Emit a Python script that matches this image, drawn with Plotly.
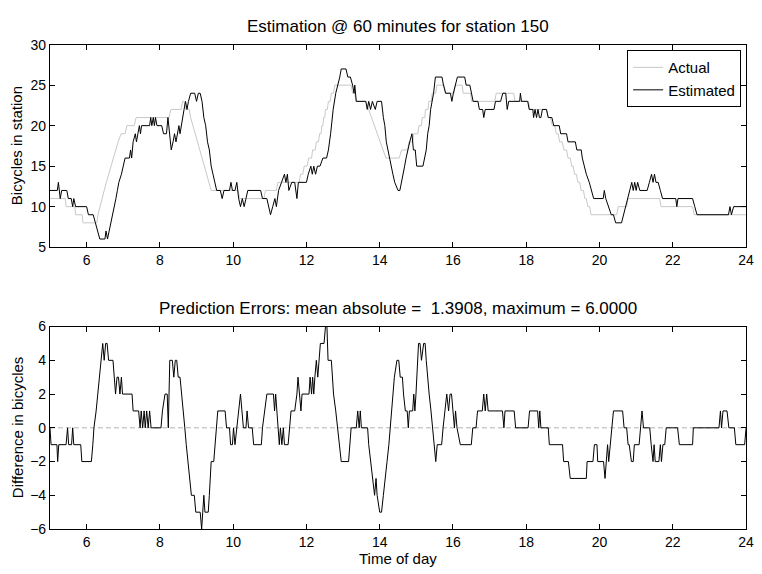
import plotly.graph_objects as go

# ---------------- data ----------------
actual_t = [5.0, 5.42, 5.44, 5.68, 5.7, 5.88, 5.9, 6.28, 6.31, 6.36, 6.42, 6.48, 6.54, 6.6, 6.66,
            6.72, 6.78, 6.86, 6.94, 7.05, 7.1, 7.3, 7.35, 8.25, 8.3, 8.58, 8.62, 8.66, 8.7, 8.8,
            8.84, 8.9, 8.96, 9.02, 9.08, 9.14, 9.2, 9.26, 9.32, 9.4, 10.14, 10.17, 10.84, 10.88,
            11.18, 11.22, 11.8, 11.84, 11.9, 11.94, 12.02, 12.06, 12.14, 12.17, 12.24, 12.27,
            12.33, 12.36, 12.4, 12.42, 12.45, 12.47, 12.5, 12.52, 12.57, 12.6, 12.65, 12.68,
            12.74, 12.77, 13.22, 13.26, 13.32, 13.36, 13.62, 13.7, 13.78, 13.86, 13.94, 14.0,
            14.08, 14.17, 14.53, 14.6, 14.76, 14.8, 14.9, 14.93, 15.04, 15.07, 15.14, 15.16,
            15.23, 15.25, 15.32, 15.34, 15.41, 15.43, 15.53, 15.56, 15.76, 15.79, 16.03, 16.06,
            16.25, 16.28, 16.48, 16.51, 17.14, 17.18, 17.66, 17.69, 18.06, 18.1, 18.56, 18.6,
            18.66, 18.71, 18.78, 18.82, 18.87, 18.91, 18.98, 19.03, 19.1, 19.14, 19.2, 19.24,
            19.28, 19.32, 19.37, 19.41, 19.46, 19.5, 19.56, 19.6, 19.64, 19.68, 19.73, 19.77,
            20.47, 20.51, 20.74, 20.78, 21.64, 21.68, 22.54, 22.58, 24.0]
actual_v = [11, 11, 10, 10, 9, 9, 8, 8, 9, 10, 11, 12, 13, 14, 15,
            16, 17, 18, 19, 19, 20, 20, 21, 21, 22, 22, 23, 23, 22, 22,
            21, 20, 19, 18, 17, 16, 15, 14, 13, 12, 12, 11, 11, 12,
            12, 13, 13, 14, 14, 15, 15, 16, 16, 17, 17, 18,
            18, 19, 19, 20, 20, 21, 21, 22, 22, 23, 23, 24,
            24, 25, 25, 24, 24, 23, 23, 22, 21, 20, 19, 18,
            17, 16, 16, 17, 17, 18, 18, 19, 19, 20, 20, 21,
            21, 22, 22, 23, 23, 24, 24, 25, 25, 24, 24, 25,
            25, 24, 24, 23, 23, 24, 24, 23, 23, 22, 22, 21,
            21, 20, 20, 19, 19, 18, 18, 17, 17, 16, 16, 15,
            15, 14, 14, 13, 13, 12, 12, 11, 11, 10, 10, 9,
            9, 10, 10, 11, 11, 10, 10, 9, 9]

est_t = [5.0, 5.2, 5.23, 5.28, 5.32, 5.46, 5.5, 5.58, 5.62, 5.65, 5.7, 6.0, 6.05, 6.18, 6.24,
         6.3, 6.36, 6.5, 6.53, 6.57, 6.62, 6.66, 6.7, 6.75, 6.8, 6.84, 6.88, 6.95, 7.0, 7.05,
         7.17, 7.2, 7.23, 7.27, 7.33, 7.36, 7.4, 7.44, 7.47, 7.5, 7.72, 7.75, 7.78, 7.82, 7.85,
         7.88, 7.92, 8.05, 8.1, 8.18, 8.22, 8.26, 8.31, 8.36, 8.4, 8.44, 8.48, 8.52, 8.55, 8.58,
         8.62, 8.66, 8.7, 8.74, 8.78, 8.84, 8.95, 9.0, 9.05, 9.1, 9.15, 9.2, 9.25, 9.3, 9.35,
         9.4, 9.45, 9.5, 9.55, 9.65, 9.7, 9.75, 9.9, 9.94, 9.98, 10.05, 10.1, 10.15, 10.2, 10.25,
         10.3, 10.35, 10.4, 10.75, 10.8, 10.92, 10.96, 11.02, 11.08, 11.14, 11.18, 11.24, 11.32,
         11.4, 11.44, 11.48, 11.52, 11.6, 11.68, 11.74, 11.78, 12.0, 12.05, 12.12, 12.16, 12.2,
         12.25, 12.3, 12.37, 12.45, 12.55, 12.6, 12.66, 12.73, 12.8, 12.86, 12.91, 12.95, 13.08,
         13.13, 13.2, 13.26, 13.3, 13.32, 13.36, 13.62, 13.66, 13.7, 13.75, 13.8, 13.88, 13.93,
         14.05, 14.1, 14.14, 14.18, 14.22, 14.27, 14.31, 14.36, 14.41, 14.5, 14.55, 14.6, 14.64,
         14.68, 14.72, 14.76, 14.82, 14.88, 14.92, 14.97, 15.01, 15.18, 15.22, 15.27, 15.31,
         15.35, 15.39, 15.43, 15.47, 15.52, 15.7, 15.74, 15.8, 15.93, 15.97, 16.01, 16.06, 16.12,
         16.32, 16.36, 16.46, 16.5, 16.55, 16.68, 16.72, 16.81, 16.84, 16.88, 17.12, 17.16, 17.3,
         17.36, 17.44, 17.48, 17.52, 17.82, 17.84, 17.87, 18.04, 18.08, 18.18, 18.2, 18.24, 18.28,
         18.32, 18.36, 18.4, 18.44, 18.55, 18.6, 18.7, 18.75, 18.9, 18.94, 19.1, 19.14, 19.34,
         19.38, 19.5, 19.53, 19.58, 19.64, 19.72, 19.78, 19.84, 20.1, 20.13, 20.17, 20.24, 20.32,
         20.38, 20.44, 20.6, 20.66, 20.72, 20.76, 20.82, 20.88, 20.92, 20.96, 21.0, 21.04, 21.1,
         21.3, 21.36, 21.42, 21.46, 21.5, 21.54, 21.6, 21.66, 21.72, 22.08, 22.11, 22.14, 22.54,
         22.6, 22.66, 23.52, 23.56, 23.6, 23.66, 24.0]
est_v = [12, 12, 13, 11, 12, 12, 11, 11, 10, 11, 10, 10, 9, 9, 8,
         7, 6, 6, 7, 6, 7, 8, 9, 10, 11, 12, 13, 14, 15, 16,
         16, 17, 16, 18, 19, 18, 19, 20, 19, 20, 20, 21, 20, 21, 20,
         21, 20, 20, 19, 19, 21, 19, 17, 18, 19, 18, 19, 20, 19, 20,
         21, 22, 23, 22, 23, 24, 24, 23, 24, 24, 23, 21, 20, 18, 17,
         15, 14, 13, 12, 12, 11, 12, 12, 13, 12, 12, 13, 11, 10, 11,
         10, 11, 12, 12, 11, 11, 10, 9, 10, 11, 10, 12, 13,
         14, 13, 14, 12, 13, 13, 11, 13, 13, 14, 15, 14, 15,
         14, 15, 15, 16, 16, 17, 19, 22, 24, 25, 26, 27, 27,
         26, 26, 25, 24, 25, 23, 23, 22, 23, 22, 23, 22, 23,
         23, 21, 20, 18, 17, 16, 15, 14, 13, 12, 12, 13, 14,
         15, 16, 17, 18, 19, 17, 17, 15, 15, 16, 17, 19,
         20, 22, 23, 24, 26, 26, 25, 24, 24, 23, 24, 25, 26,
         26, 25, 25, 24, 23, 23, 22, 22, 21, 22, 22, 23, 23,
         24, 24, 22, 23, 23, 24, 23, 23, 22, 22, 21, 22, 21,
         22, 21, 21, 22, 22, 21, 21, 20, 20, 19, 19, 18, 18,
         17, 17, 16, 15, 14, 13, 12, 11, 11, 12, 11, 10, 9,
         9, 8, 8, 9, 10, 11, 12, 13, 12, 13, 12, 13, 12,
         12, 13, 14, 13, 14, 13, 13, 12, 11, 11, 10, 11, 11,
         10, 9, 9, 10, 9, 10, 10]

err_t = [5.0, 5.03, 5.19, 5.21, 5.24, 5.44, 5.48, 5.51, 5.59, 5.62, 5.65, 5.84, 5.87, 6.13, 6.17,
         6.2, 6.26, 6.3, 6.34, 6.38, 6.44, 6.48, 6.52, 6.56, 6.6, 6.72, 6.75, 6.79, 6.83, 6.87,
         6.91, 6.95, 6.98, 7.24, 7.27, 7.42, 7.46, 7.49, 7.53, 7.57, 7.6, 7.64, 7.68, 7.72, 7.76,
         8.03, 8.07, 8.14, 8.2, 8.23, 8.27, 8.34, 8.38, 8.42, 8.46, 8.5, 8.55, 8.6, 8.64, 8.68,
         8.72, 8.77, 8.82, 8.86, 8.94, 8.98, 9.1, 9.14, 9.17, 9.2, 9.23, 9.32, 9.35, 9.37, 9.4,
         9.47, 9.5, 9.53, 9.58, 9.78, 9.82, 9.9, 9.93, 9.98, 10.01, 10.05, 10.1, 10.15, 10.2,
         10.24, 10.28, 10.35, 10.38, 10.42, 10.52, 10.56, 10.77, 10.8, 10.86, 10.92, 11.1, 11.13,
         11.16, 11.19, 11.22, 11.26, 11.29, 11.33, 11.37, 11.4, 11.5, 11.54, 11.58, 11.68, 11.74,
         11.77, 11.81, 11.85, 11.88, 12.07, 12.1, 12.14, 12.17, 12.2, 12.23, 12.27, 12.31, 12.38,
         12.48, 12.52, 12.56, 12.59, 12.68, 12.71, 12.74, 12.8, 12.85, 12.91, 12.95, 13.15, 13.18,
         13.22, 13.36, 13.4, 13.44, 13.47, 13.5, 13.67, 13.7, 13.76, 13.82, 13.86, 13.9, 13.93,
         14.0, 14.05, 14.1, 14.14, 14.2, 14.25, 14.29, 14.32, 14.36, 14.4, 14.47, 14.52, 14.56,
         14.62, 14.65, 14.7, 14.75, 14.78, 14.81, 14.9, 14.93, 14.96, 14.99, 15.03, 15.06, 15.1,
         15.14, 15.2, 15.24, 15.27, 15.3, 15.35, 15.4, 15.45, 15.49, 15.53, 15.57, 15.69, 15.73,
         15.77, 15.83, 15.88, 15.92, 15.96, 16.0, 16.04, 16.07, 16.11, 16.2, 16.5, 16.54, 16.63,
         16.67, 16.8, 16.84, 16.88, 16.92, 16.96, 17.35, 17.39, 17.42, 17.67, 17.71, 18.05, 18.09,
         18.31, 18.34, 18.37, 18.4, 18.6, 18.63, 18.99, 19.02, 19.15, 19.2, 19.64, 19.66, 19.82,
         19.86, 19.93, 19.95, 20.11, 20.15, 20.18, 20.22, 20.25, 20.29, 20.33, 20.38, 20.63, 20.67,
         20.74, 20.78, 20.81, 20.87, 20.92, 20.95, 21.08, 21.12, 21.16, 21.2, 21.37, 21.41, 21.46,
         21.49, 21.52, 21.62, 21.66, 21.69, 21.73, 21.78, 21.82, 22.13, 22.18, 22.54, 22.56, 23.26,
         23.3, 23.33, 23.37, 23.48, 23.53, 23.68, 23.72, 23.96, 24.0]
err_v = [0, -1, -1, -2, -1, -1, 0, -1, -1, 0, -1, -1, -2, -2, -1,
         0, 1, 2, 3, 4, 5, 4, 5, 5, 4, 4, 3, 2, 3, 3,
         2, 3, 2, 2, 1, 1, 0, 1, 0, 1, 0, 1, 0, 1, 0,
         0, 1, 2, 2, 0, 4, 4, 3, 4, 4, 3, 3, 2, 1, 0,
         -1, -2, -3, -4, -4, -5, -5, -6, -5, -4, -5, -5, -4, -3, -2,
         -2, -1, 0, 1, 1, 0, 0, -1, -1, 0, -1, 0, 1, 2,
         1, 0, 0, 1, 0, 0, -1, -1, 0, 1, 2, 2, 1,
         2, 1, 0, -1, 0, -1, 0, -1, -1, 0, 1, 1, 2,
         3, 2, 1, 2, 2, 3, 2, 3, 2, 3, 4, 3, 5,
         5, 6, 6, 4, 4, 3, 2, 1, 0, -1, -2, -2, -1,
         0, 0, 1, 0, 1, 0, 0, -1, -2, -3, -4, -3, -4,
         -5, -5, -4, -3, -2, -1, 0, 1, 2, 3, 4, 4, 3,
         3, 2, 1, 1, 0, 1, 1, 2, 1, 2, 4, 5, 5,
         4, 5, 5, 4, 3, 2, 1, 0, -1, -2, -1, -1, 0,
         1, 2, 1, 2, 2, 1, 0, 1, 0, -1, -1, 0, 0,
         1, 1, 2, 1, 2, 1, 1, 0, 1, 1, 0, 0, 1,
         1, 0, 1, 0, 0, -1, -1, -2, -2, -3, -3, -2, -2,
         -1, -1, -2, -2, -3, -2, -1, -2, -1, 0, 1, 1, 0,
         0, -1, -1, -2, -2, -1, -1, 0, 1, 0, 0, -1, -2,
         -1, -2, -2, -1, -2, -1, -1, 0, 0, -1, -1, 0, 0,
         1, 0, 1, 1, 0, 0, -1, -1, 0]

x_ticks = [6, 8, 10, 12, 14, 16, 18, 20, 22, 24]
top_y_ticks = [5, 10, 15, 20, 25, 30]
bot_y_ticks = [-6, -4, -2, 0, 2, 4, 6]

top_title = "Estimation @ 60 minutes for station 150"
bot_title = "Prediction Errors: mean absolute =  1.3908, maximum = 6.0000"

# ---------------- figure ----------------
W, H = 762, 574
FONT = "Liberation Sans, Arial, Helvetica, sans-serif"

fig = go.Figure()
fig.add_trace(go.Scatter(x=actual_t, y=actual_v, mode="lines", name="Actual",
                         line=dict(color="#c8c8c8", width=1), xaxis="x", yaxis="y"))
fig.add_trace(go.Scatter(x=est_t, y=est_v, mode="lines", name="Estimated",
                         line=dict(color="black", width=1), xaxis="x", yaxis="y"))
fig.add_trace(go.Scatter(x=err_t, y=err_v, mode="lines", showlegend=False,
                         line=dict(color="black", width=1), xaxis="x2", yaxis="y2"))

xdom = [50.5 / W, 754 / W]
top_dom = [1 - 246 / H, 1 - 37.7 / H]
bot_dom = [1 - 536 / H, 1 - 327.7 / H]

axis_common = dict(showline=True, linecolor="black", linewidth=1, mirror="ticks",
                   ticks="inside", ticklen=5, tickcolor="black", tickwidth=1,
                   showgrid=False, zeroline=False, ticklabeloverflow="allow",
                   tickfont=dict(family=FONT, size=14, color="black"))

fig.update_layout(
    width=W, height=H,
    margin=dict(l=0, r=0, t=0, b=0),
    paper_bgcolor="white", plot_bgcolor="white",
    font=dict(family=FONT, size=14, color="black"),
    xaxis=dict(domain=xdom, anchor="y", range=[5, 24], tickvals=x_ticks, **axis_common),
    yaxis=dict(domain=top_dom, anchor="x", range=[5, 30], tickvals=top_y_ticks, **axis_common),
    xaxis2=dict(domain=xdom, anchor="y2", range=[5, 24], tickvals=x_ticks, **axis_common),
    yaxis2=dict(domain=bot_dom, anchor="x2", range=[-6, 6], tickvals=bot_y_ticks, **axis_common),
    legend=dict(x=749 / W, y=1 - 43.3 / H, xanchor="right", yanchor="top",
                bgcolor="white", bordercolor="black", borderwidth=1,
                font=dict(family=FONT, size=15, color="black"),
                tracegroupgap=0, itemwidth=30),
    showlegend=True,
)

fig.add_shape(type="line", xref="x2 domain", x0=0, x1=1, yref="y2", y0=0, y1=0,
              line=dict(color="#b4b4b4", width=1, dash="5px,3px"), layer="below")

def add_text(text, x, y, size, angle=0):
    fig.add_annotation(text=text, xref="paper", yref="paper", x=x / W, y=1 - y / H,
                       xanchor="center", yanchor="middle", textangle=angle, showarrow=False,
                       font=dict(family=FONT, size=size, color="black"))

add_text(top_title, 402, 19.5, 17)
add_text(bot_title, 402, 309.5, 17)
add_text("Time of day", 402, 566, 15)
add_text("Bicycles in station", 17.5, (37.7 + 246) / 2, 15, -90)
add_text("Difference in bicycles", 17.5, (327.7 + 536) / 2, 15, -90)

fig.write_html("out.html")
